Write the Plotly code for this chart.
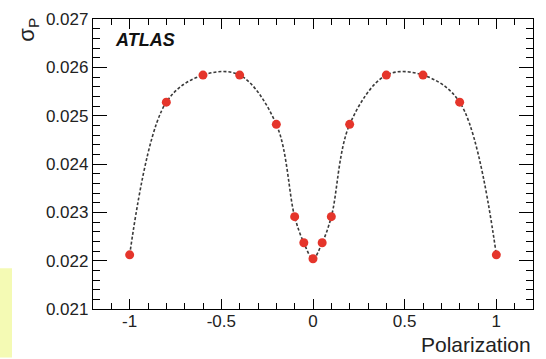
import plotly.graph_objects as go

# Data
polarization = [-1.0, -0.8, -0.6, -0.4, -0.2, -0.1, -0.05, 0.0, 0.05, 0.1, 0.2, 0.4, 0.6, 0.8, 1.0]
sigma_p = [0.02212, 0.02528, 0.02584, 0.02584, 0.02482, 0.02291, 0.02237, 0.02204,
           0.02237, 0.02291, 0.02482, 0.02584, 0.02584, 0.02528, 0.02212]

x_tickvals = [-1, -0.5, 0, 0.5, 1]
x_ticktext = ["-1", "-0.5", "0", "0.5", "1"]
y_tickvals = [0.021, 0.022, 0.023, 0.024, 0.025, 0.026, 0.027]
y_ticktext = ["0.021", "0.022", "0.023", "0.024", "0.025", "0.026", "0.027"]

W, H = 546, 359
ML, MR, MT, MB = 93, 13, 10, 50
PW, PH = W - ML - MR, H - MT - MB

def px(x):
    return (x - ML) / PW

def py(y):
    return (H - MB - y) / PH

font = "Liberation Sans, Arial, Helvetica, sans-serif"

fig = go.Figure()
fig.add_trace(go.Scatter(
    x=polarization, y=sigma_p, mode="lines+markers",
    line=dict(color="#3a3a3a", width=1.6, dash="3px,2px", shape="spline", smoothing=1.0),
    marker=dict(color="#e5352b", size=9, line=dict(width=0)),
    showlegend=False, hoverinfo="skip",
))

axis_common = dict(
    showgrid=False, zeroline=False, showline=True, linecolor="black", linewidth=1.3,
    mirror="ticks", ticks="inside", tickcolor="black", tickwidth=1.3,
    tickfont=dict(family=font, size=17, color="#222"),
)

fig.update_xaxes(
    range=[-1.2, 1.2], tickvals=x_tickvals, ticktext=x_ticktext, ticklen=10,
    ticklabelstandoff=-4,
    minor=dict(dtick=0.1, tick0=0, ticklen=6, ticks="inside", tickcolor="black", tickwidth=1.3),
    **axis_common,
)
fig.update_yaxes(
    range=[0.021, 0.027], tickvals=y_tickvals, ticktext=y_ticktext, ticklen=14,
    minor=dict(dtick=0.0002, tick0=0.021, ticklen=7, ticks="inside", tickcolor="black", tickwidth=1.3),
    **axis_common,
)

fig.update_layout(
    width=W, height=H,
    margin=dict(l=ML, r=MR, t=MT, b=MB, pad=0),
    paper_bgcolor="white", plot_bgcolor="white",
    font=dict(family=font, color="#222"),
    annotations=[
        dict(text="<b><i>ATLAS</i></b>", x=px(113), y=py(32), xref="paper", yref="paper",
             xanchor="left", yanchor="middle", showarrow=False,
             font=dict(family=font, size=18, color="#111")),
        dict(text="Polarization", x=1.0, y=py(346), xref="paper", yref="paper",
             xanchor="right", yanchor="middle", showarrow=False,
             font=dict(family=font, size=21, color="#222")),
        dict(text="σ<sub>P</sub>", x=px(28), y=py(21), xref="paper", yref="paper",
             xanchor="center", yanchor="middle", showarrow=False, textangle=-90,
             font=dict(family=font, size=22, color="#222")),
    ],
    shapes=[
        dict(type="rect", xref="paper", yref="paper",
             x0=px(0), x1=px(12), y0=py(359), y1=py(267),
             fillcolor="#f4fab4", line=dict(width=0), layer="below"),
    ],
)

fig.write_html("out.html")
